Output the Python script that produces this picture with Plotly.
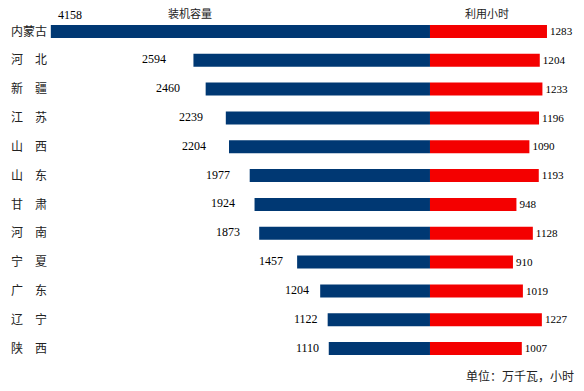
import plotly.graph_objects as go

provinces = ["内蒙古", "河　北", "新　疆", "江　苏", "山　西", "山　东", "甘　肃", "河　南", "宁　夏", "广　东", "辽　宁", "陕　西"]
capacity = [4158, 2594, 2460, 2239, 2204, 1977, 1924, 1873, 1457, 1204, 1122, 1110]
hours = [1283, 1204, 1233, 1196, 1090, 1193, 948, 1128, 910, 1019, 1227, 1007]
title_left = "装机容量"
title_right = "利用小时"
unit_text = "单位：万千瓦，小时"

BLUE = "#003873"
RED = "#F40000"
NUM_FONT = dict(family="Liberation Serif, Times New Roman, serif", size=12, color="#000000")
CJK = "Noto Sans CJK SC"

W, H = 584, 391
ml, mr, mt, mb = 50, 0, 16.5, 27.5
pw, ph = W - ml - mr, H - mt - mb
def px(x):
    return (x - ml) / pw
def py(y):
    return 1 - (y - mt) / ph

fig = go.Figure()
fig.add_trace(go.Bar(
    y=provinces, x=[-v for v in capacity], orientation="h",
    marker=dict(color=BLUE, line=dict(width=0)), width=0.45, hoverinfo="skip",
))
fig.add_trace(go.Bar(
    y=provinces, x=hours, orientation="h",
    marker=dict(color=RED, line=dict(width=0)), width=0.45,
    text=[str(v) for v in hours], textposition="outside", textfont=NUM_FONT,
    cliponaxis=False, hoverinfo="skip",
))

annotations = []
for i, (p, v) in enumerate(zip(provinces, capacity)):
    if i == 0:
        annotations.append(dict(x=-v, y=p, xref="x", yref="y", text=str(v), showarrow=False,
                                xanchor="left", yanchor="middle", xshift=5, yshift=16, font=NUM_FONT))
    else:
        # labels sit further from the bar end as the value grows (as in the source)
        annotations.append(dict(x=-v * 1.13 + 60, y=p, xref="x", yref="y", text=str(v), showarrow=False,
                                xanchor="right", yanchor="middle", yshift=1, font=NUM_FONT))

annotations.append(dict(x=px(190), y=py(12), xref="paper", yref="paper", text=title_left, showarrow=False,
                        xanchor="center", yanchor="middle", font=dict(family=CJK, size=11, color="#222")))
annotations.append(dict(x=px(487), y=py(12), xref="paper", yref="paper", text=title_right, showarrow=False,
                        xanchor="center", yanchor="middle", font=dict(family=CJK, size=11, color="#222")))
annotations.append(dict(x=px(576), y=py(376), xref="paper", yref="paper", text=unit_text, showarrow=False,
                        xanchor="right", yanchor="middle", font=dict(family=CJK, size=12, color="#222")))

fig.update_layout(
    width=W, height=H,
    margin=dict(l=ml, r=mr, t=mt, b=mb, autoexpand=False),
    paper_bgcolor="white", plot_bgcolor="white",
    barmode="overlay", showlegend=False,
    xaxis=dict(range=[-4167, 1689], visible=False, fixedrange=True, automargin=False),
    yaxis=dict(autorange="reversed", showgrid=False, zeroline=False, showline=False, ticks="",
               automargin=False, fixedrange=True,
               tickfont=dict(family=CJK, size=12, color="#222"), ticklabelstandoff=2),
    annotations=annotations,
)
fig.write_html("out.html", config={"displayModeBar": False},
               post_script="document.body.style.margin='0';document.body.style.overflow='hidden';")
